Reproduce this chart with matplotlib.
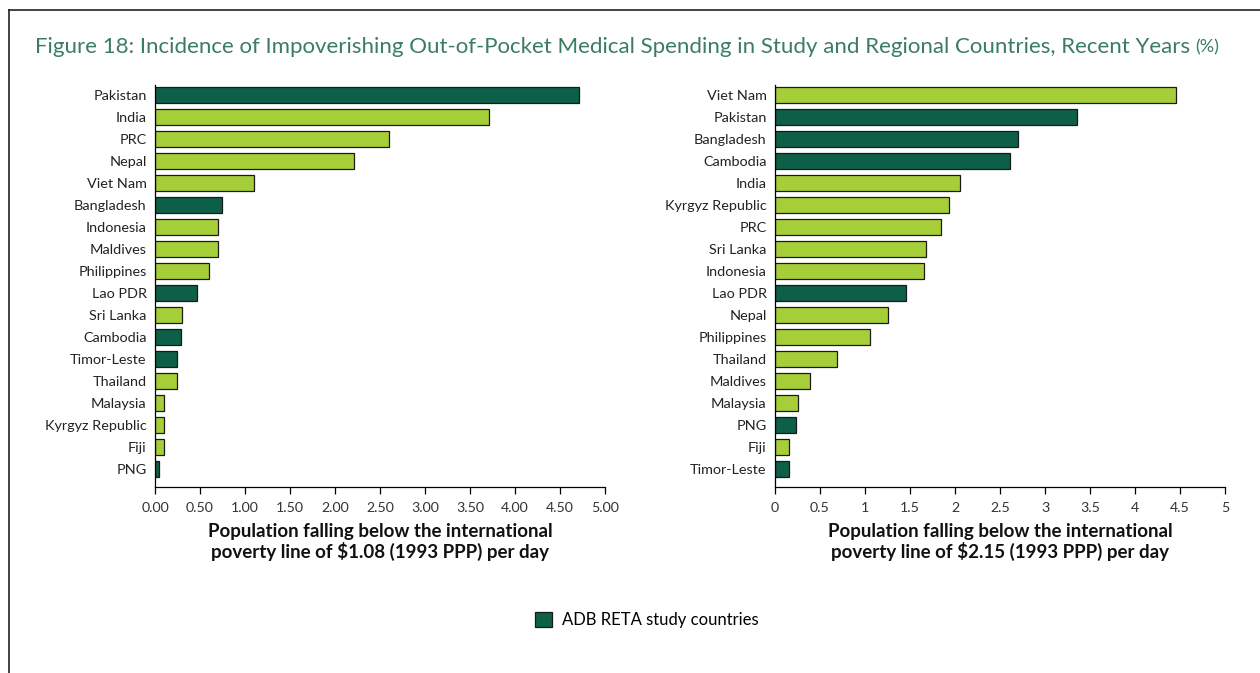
import numpy as np
import matplotlib.pyplot as plt
from matplotlib.lines import Line2D
from matplotlib.patches import Patch

DARK = "#0d5f47"
LIGHT = "#a6ce39"
TITLE_COLOR = "#3b7d61"

# left panel: $1.08 poverty line
left_countries = ["Pakistan", "India", "PRC", "Nepal", "Viet Nam", "Bangladesh",
                  "Indonesia", "Maldives", "Philippines", "Lao PDR", "Sri Lanka",
                  "Cambodia", "Timor-Leste", "Thailand", "Malaysia",
                  "Kyrgyz Republic", "Fiji", "PNG"]
left_values = [4.71, 3.71, 2.60, 2.21, 1.10, 0.74, 0.70, 0.70, 0.60, 0.47,
               0.30, 0.29, 0.24, 0.24, 0.10, 0.10, 0.10, 0.04]

# right panel: $2.15 poverty line
right_countries = ["Viet Nam", "Pakistan", "Bangladesh", "Cambodia", "India",
                   "Kyrgyz Republic", "PRC", "Sri Lanka", "Indonesia", "Lao PDR",
                   "Nepal", "Philippines", "Thailand", "Maldives", "Malaysia",
                   "PNG", "Fiji", "Timor-Leste"]
right_values = [4.45, 3.35, 2.70, 2.61, 2.05, 1.93, 1.84, 1.68, 1.66, 1.45,
                1.26, 1.05, 0.69, 0.39, 0.25, 0.23, 0.16, 0.15]

study_countries = ["Pakistan", "Bangladesh", "Lao PDR", "Cambodia", "Timor-Leste", "PNG"]

x_ticks = [0, 0.5, 1, 1.5, 2, 2.5, 3, 3.5, 4, 4.5, 5]
left_ticklabels = [f"{t:.2f}" for t in x_ticks]
right_ticklabels = ["0", "0.5", "1", "1.5", "2", "2.5", "3", "3.5", "4", "4.5", "5"]

left_xlabel = "Population falling below the international\npoverty line of $1.08 (1993 PPP) per day"
right_xlabel = "Population falling below the international\npoverty line of $2.15 (1993 PPP) per day"

plt.rcParams['font.family'] = ['Lato', 'DejaVu Sans']

W, H = 1260, 673
fig = plt.figure(figsize=(W / 100, H / 100), dpi=100)


def draw_panel(ax, countries, values, ticklabels, xlabel):
    y = np.arange(len(countries))
    colors = [DARK if c in study_countries else LIGHT for c in countries]
    ax.barh(y, values, height=0.72, color=colors, edgecolor="#1a1a1a", linewidth=0.9)
    ax.set_ylim(len(countries) - 1 + 0.82, -0.45)
    ax.set_xlim(0, 5)
    ax.set_yticks(y)
    ax.set_yticklabels(countries, fontsize=10.4, color="#222222")
    ax.tick_params(axis="y", length=0, pad=6)
    ax.set_xticks(x_ticks)
    ax.set_xticklabels(ticklabels, fontsize=10.2, color="#333333")
    ax.tick_params(axis="x", direction="out", length=5, width=0.9, pad=6)
    for s in ["top", "right"]:
        ax.spines[s].set_visible(False)
    ax.spines["left"].set_linewidth(0.9)
    ax.spines["bottom"].set_linewidth(0.9)
    ax.set_xlabel(xlabel, fontsize=13.5, fontweight="bold", color="#111111",
                  labelpad=6, linespacing=1.15)


ax1 = fig.add_axes([155 / W, 1 - 487 / H, 450 / W, 402 / H])
draw_panel(ax1, left_countries, left_values, left_ticklabels, left_xlabel)

ax2 = fig.add_axes([775 / W, 1 - 487 / H, 450 / W, 402 / H])
draw_panel(ax2, right_countries, right_values, right_ticklabels, right_xlabel)

# title with smaller "(%)"
t = fig.text(35 / W, 1 - 47 / H,
             "Figure 18: Incidence of Impoverishing Out-of-Pocket Medical Spending in Study and Regional Countries, Recent Years",
             fontsize=16, color=TITLE_COLOR, va="center", ha="left")
fig.canvas.draw()
bb = t.get_window_extent()
fig.text(bb.x1 / W + 5 / W, 1 - 47 / H, "(%)", fontsize=13, color=TITLE_COLOR,
         va="center", ha="left")

# frame lines
fig.add_artist(Line2D([9 / W, 1], [1 - 10 / H, 1 - 10 / H], color="#222222", linewidth=1.2))
fig.add_artist(Line2D([9 / W, 9 / W], [0, 1 - 10 / H], color="#222222", linewidth=1.2))

handles = [Patch(facecolor=DARK, edgecolor="#1a1a1a", linewidth=0.9, label="ADB RETA study countries")]
fig.legend(handles=handles, loc="center", bbox_to_anchor=(647 / W, 1 - 620 / H),
           frameon=False, fontsize=12, handlelength=1.0, handleheight=1.0,
           handletextpad=0.6)

fig.savefig("out.png", dpi=100)
